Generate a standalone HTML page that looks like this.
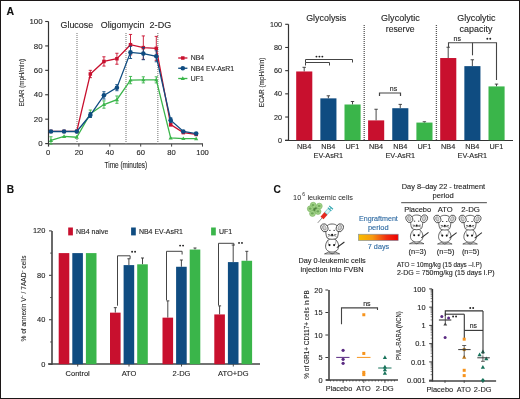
<!DOCTYPE html>
<html><head><meta charset="utf-8"><style>
html,body{margin:0;padding:0;background:#fff;}
body{width:520px;height:399px;overflow:hidden;position:relative;}
.frame{position:absolute;left:0;top:0;width:518px;height:397px;border:1px solid #1c1717;box-sizing:content-box;}
svg{position:absolute;left:0;top:0;will-change:transform;}
text{font-family:"Liberation Sans",sans-serif;}
</style></head><body>
<svg width="520" height="399" viewBox="0 0 520 399">
<rect x="0" y="0" width="520" height="399" fill="#fff"/>
<text x="6.50" y="15.00" font-size="10.5" text-anchor="start" fill="#111" stroke="#111" stroke-width="0.12" font-weight="bold" >A</text>
<line x1="48.50" y1="21.50" x2="48.50" y2="146.60" stroke="#333" stroke-width="1.2" />
<line x1="48.00" y1="143.90" x2="203.00" y2="143.90" stroke="#444" stroke-width="1.4" />
<line x1="45.20" y1="143.60" x2="48.50" y2="143.60" stroke="#333" stroke-width="1.1" />
<text x="42.60" y="146.30" font-size="7.9" text-anchor="end" fill="#262626" stroke="#262626" stroke-width="0.12" >0</text>
<text x="48.00" y="155.20" font-size="7.6" text-anchor="middle" fill="#262626" stroke="#262626" stroke-width="0.12" >0</text>
<line x1="45.20" y1="119.18" x2="48.50" y2="119.18" stroke="#333" stroke-width="1.1" />
<text x="42.60" y="121.88" font-size="7.9" text-anchor="end" fill="#262626" stroke="#262626" stroke-width="0.12" >20</text>
<line x1="78.90" y1="143.90" x2="78.90" y2="146.60" stroke="#444" stroke-width="1" />
<text x="78.90" y="155.20" font-size="7.6" text-anchor="middle" fill="#262626" stroke="#262626" stroke-width="0.12" >20</text>
<line x1="45.20" y1="94.76" x2="48.50" y2="94.76" stroke="#333" stroke-width="1.1" />
<text x="42.60" y="97.46" font-size="7.9" text-anchor="end" fill="#262626" stroke="#262626" stroke-width="0.12" >40</text>
<line x1="109.80" y1="143.90" x2="109.80" y2="146.60" stroke="#444" stroke-width="1" />
<text x="109.80" y="155.20" font-size="7.6" text-anchor="middle" fill="#262626" stroke="#262626" stroke-width="0.12" >40</text>
<line x1="45.20" y1="70.34" x2="48.50" y2="70.34" stroke="#333" stroke-width="1.1" />
<text x="42.60" y="73.04" font-size="7.9" text-anchor="end" fill="#262626" stroke="#262626" stroke-width="0.12" >60</text>
<line x1="140.70" y1="143.90" x2="140.70" y2="146.60" stroke="#444" stroke-width="1" />
<text x="140.70" y="155.20" font-size="7.6" text-anchor="middle" fill="#262626" stroke="#262626" stroke-width="0.12" >60</text>
<line x1="45.20" y1="45.92" x2="48.50" y2="45.92" stroke="#333" stroke-width="1.1" />
<text x="42.60" y="48.62" font-size="7.9" text-anchor="end" fill="#262626" stroke="#262626" stroke-width="0.12" >80</text>
<line x1="171.60" y1="143.90" x2="171.60" y2="146.60" stroke="#444" stroke-width="1" />
<text x="171.60" y="155.20" font-size="7.6" text-anchor="middle" fill="#262626" stroke="#262626" stroke-width="0.12" >80</text>
<line x1="45.20" y1="21.50" x2="48.50" y2="21.50" stroke="#333" stroke-width="1.1" />
<text x="42.60" y="24.20" font-size="7.9" text-anchor="end" fill="#262626" stroke="#262626" stroke-width="0.12" >100</text>
<line x1="202.50" y1="143.90" x2="202.50" y2="146.60" stroke="#444" stroke-width="1" />
<text x="202.50" y="155.20" font-size="7.6" text-anchor="middle" fill="#262626" stroke="#262626" stroke-width="0.12" >100</text>
<text x="125.90" y="168.30" font-size="9" text-anchor="middle" fill="#262626" stroke="#262626" stroke-width="0.12" textLength="42.6" lengthAdjust="spacingAndGlyphs" >Time (minutes)</text>
<text transform="translate(23.9,82.8) rotate(-90)" x="0" y="0" stroke="#2b2b2b" stroke-width="0.1" font-size="8.0" text-anchor="middle" fill="#262626" textLength="47.5" lengthAdjust="spacingAndGlyphs">ECAR (mpH/min)</text>
<line x1="77.00" y1="33.00" x2="77.00" y2="143.60" stroke="#999" stroke-width="1.4" stroke-dasharray="1,1"/>
<line x1="126.00" y1="33.00" x2="126.00" y2="143.60" stroke="#999" stroke-width="1.4" stroke-dasharray="1,1"/>
<line x1="157.80" y1="33.00" x2="157.80" y2="143.60" stroke="#999" stroke-width="1.4" stroke-dasharray="1,1"/>
<text x="60.50" y="27.80" font-size="8.8" text-anchor="start" fill="#262626" stroke="#262626" stroke-width="0.12" textLength="32.6" lengthAdjust="spacingAndGlyphs" >Glucose</text>
<text x="100.80" y="27.80" font-size="8.8" text-anchor="start" fill="#262626" stroke="#262626" stroke-width="0.12" textLength="43.7" lengthAdjust="spacingAndGlyphs" >Oligomycin</text>
<text x="149.60" y="27.80" font-size="8.8" text-anchor="start" fill="#262626" stroke="#262626" stroke-width="0.12" textLength="21.6" lengthAdjust="spacingAndGlyphs" >2-DG</text>
<line x1="50.94" y1="136.76" x2="50.94" y2="144.09" stroke="#3ab54a" stroke-width="0.9" />
<line x1="49.34" y1="136.76" x2="52.54" y2="136.76" stroke="#3ab54a" stroke-width="0.9" />
<line x1="49.34" y1="144.09" x2="52.54" y2="144.09" stroke="#3ab54a" stroke-width="0.9" />
<line x1="90.33" y1="110.02" x2="90.33" y2="117.35" stroke="#3ab54a" stroke-width="0.9" />
<line x1="88.73" y1="110.02" x2="91.93" y2="110.02" stroke="#3ab54a" stroke-width="0.9" />
<line x1="88.73" y1="117.35" x2="91.93" y2="117.35" stroke="#3ab54a" stroke-width="0.9" />
<line x1="103.93" y1="100.86" x2="103.93" y2="108.19" stroke="#3ab54a" stroke-width="0.9" />
<line x1="102.33" y1="100.86" x2="105.53" y2="100.86" stroke="#3ab54a" stroke-width="0.9" />
<line x1="102.33" y1="108.19" x2="105.53" y2="108.19" stroke="#3ab54a" stroke-width="0.9" />
<line x1="116.91" y1="95.98" x2="116.91" y2="103.31" stroke="#3ab54a" stroke-width="0.9" />
<line x1="115.31" y1="95.98" x2="118.51" y2="95.98" stroke="#3ab54a" stroke-width="0.9" />
<line x1="115.31" y1="103.31" x2="118.51" y2="103.31" stroke="#3ab54a" stroke-width="0.9" />
<line x1="130.50" y1="76.44" x2="130.50" y2="83.77" stroke="#3ab54a" stroke-width="0.9" />
<line x1="128.90" y1="76.44" x2="132.10" y2="76.44" stroke="#3ab54a" stroke-width="0.9" />
<line x1="128.90" y1="83.77" x2="132.10" y2="83.77" stroke="#3ab54a" stroke-width="0.9" />
<line x1="143.33" y1="76.81" x2="143.33" y2="82.92" stroke="#3ab54a" stroke-width="0.9" />
<line x1="141.73" y1="76.81" x2="144.93" y2="76.81" stroke="#3ab54a" stroke-width="0.9" />
<line x1="141.73" y1="82.92" x2="144.93" y2="82.92" stroke="#3ab54a" stroke-width="0.9" />
<line x1="156.30" y1="76.81" x2="156.30" y2="82.92" stroke="#3ab54a" stroke-width="0.9" />
<line x1="154.70" y1="76.81" x2="157.90" y2="76.81" stroke="#3ab54a" stroke-width="0.9" />
<line x1="154.70" y1="82.92" x2="157.90" y2="82.92" stroke="#3ab54a" stroke-width="0.9" />
<polyline points="50.94,140.43 64.07,136.40 76.74,137.25 90.33,113.69 103.93,104.53 116.91,99.64 130.50,80.11 143.33,79.86 156.30,79.86 170.67,137.98 183.34,138.59 196.17,138.72" fill="none" stroke="#3ab54a" stroke-width="1.3"/>
<polygon points="48.84,141.93 53.04,141.93 50.94,138.23" fill="#3ab54a"/>
<polygon points="61.97,137.90 66.17,137.90 64.07,134.20" fill="#3ab54a"/>
<polygon points="74.64,138.75 78.84,138.75 76.74,135.05" fill="#3ab54a"/>
<polygon points="88.23,115.19 92.43,115.19 90.33,111.49" fill="#3ab54a"/>
<polygon points="101.83,106.03 106.03,106.03 103.93,102.33" fill="#3ab54a"/>
<polygon points="114.81,101.14 119.01,101.14 116.91,97.44" fill="#3ab54a"/>
<polygon points="128.40,81.61 132.60,81.61 130.50,77.91" fill="#3ab54a"/>
<polygon points="141.23,81.36 145.43,81.36 143.33,77.66" fill="#3ab54a"/>
<polygon points="154.20,81.36 158.40,81.36 156.30,77.66" fill="#3ab54a"/>
<polygon points="168.57,139.48 172.77,139.48 170.67,135.78" fill="#3ab54a"/>
<polygon points="181.24,140.09 185.44,140.09 183.34,136.39" fill="#3ab54a"/>
<polygon points="194.07,140.22 198.27,140.22 196.17,136.52" fill="#3ab54a"/>
<line x1="90.33" y1="70.34" x2="90.33" y2="77.67" stroke="#c8102e" stroke-width="0.9" />
<line x1="88.73" y1="70.34" x2="91.93" y2="70.34" stroke="#c8102e" stroke-width="0.9" />
<line x1="88.73" y1="77.67" x2="91.93" y2="77.67" stroke="#c8102e" stroke-width="0.9" />
<line x1="103.93" y1="56.79" x2="103.93" y2="66.07" stroke="#c8102e" stroke-width="0.9" />
<line x1="102.33" y1="56.79" x2="105.53" y2="56.79" stroke="#c8102e" stroke-width="0.9" />
<line x1="102.33" y1="66.07" x2="105.53" y2="66.07" stroke="#c8102e" stroke-width="0.9" />
<line x1="116.91" y1="53.25" x2="116.91" y2="64.23" stroke="#c8102e" stroke-width="0.9" />
<line x1="115.31" y1="53.25" x2="118.51" y2="53.25" stroke="#c8102e" stroke-width="0.9" />
<line x1="115.31" y1="64.23" x2="118.51" y2="64.23" stroke="#c8102e" stroke-width="0.9" />
<line x1="130.50" y1="34.44" x2="130.50" y2="54.96" stroke="#c8102e" stroke-width="0.9" />
<line x1="128.90" y1="34.44" x2="132.10" y2="34.44" stroke="#c8102e" stroke-width="0.9" />
<line x1="128.90" y1="54.96" x2="132.10" y2="54.96" stroke="#c8102e" stroke-width="0.9" />
<line x1="143.33" y1="35.91" x2="143.33" y2="59.35" stroke="#c8102e" stroke-width="0.9" />
<line x1="141.73" y1="35.91" x2="144.93" y2="35.91" stroke="#c8102e" stroke-width="0.9" />
<line x1="141.73" y1="59.35" x2="144.93" y2="59.35" stroke="#c8102e" stroke-width="0.9" />
<line x1="156.30" y1="36.40" x2="156.30" y2="60.33" stroke="#c8102e" stroke-width="0.9" />
<line x1="154.70" y1="36.40" x2="157.90" y2="36.40" stroke="#c8102e" stroke-width="0.9" />
<line x1="154.70" y1="60.33" x2="157.90" y2="60.33" stroke="#c8102e" stroke-width="0.9" />
<line x1="170.67" y1="123.45" x2="170.67" y2="125.90" stroke="#c8102e" stroke-width="0.9" />
<line x1="169.07" y1="123.45" x2="172.27" y2="123.45" stroke="#c8102e" stroke-width="0.9" />
<line x1="169.07" y1="125.90" x2="172.27" y2="125.90" stroke="#c8102e" stroke-width="0.9" />
<line x1="183.34" y1="132.00" x2="183.34" y2="133.22" stroke="#c8102e" stroke-width="0.9" />
<line x1="181.74" y1="132.00" x2="184.94" y2="132.00" stroke="#c8102e" stroke-width="0.9" />
<line x1="181.74" y1="133.22" x2="184.94" y2="133.22" stroke="#c8102e" stroke-width="0.9" />
<line x1="196.17" y1="133.83" x2="196.17" y2="135.05" stroke="#c8102e" stroke-width="0.9" />
<line x1="194.57" y1="133.83" x2="197.77" y2="133.83" stroke="#c8102e" stroke-width="0.9" />
<line x1="194.57" y1="135.05" x2="197.77" y2="135.05" stroke="#c8102e" stroke-width="0.9" />
<polyline points="50.94,131.39 64.07,131.39 76.74,131.39 90.33,74.00 103.93,61.43 116.91,58.74 130.50,44.70 143.33,47.63 156.30,48.36 170.67,124.67 183.34,132.61 196.17,134.44" fill="none" stroke="#c8102e" stroke-width="1.3"/>
<rect x="49.19" y="129.64" width="3.50" height="3.50" fill="#c8102e"/>
<rect x="62.32" y="129.64" width="3.50" height="3.50" fill="#c8102e"/>
<rect x="74.99" y="129.64" width="3.50" height="3.50" fill="#c8102e"/>
<rect x="88.58" y="72.25" width="3.50" height="3.50" fill="#c8102e"/>
<rect x="102.18" y="59.68" width="3.50" height="3.50" fill="#c8102e"/>
<rect x="115.16" y="56.99" width="3.50" height="3.50" fill="#c8102e"/>
<rect x="128.75" y="42.95" width="3.50" height="3.50" fill="#c8102e"/>
<rect x="141.58" y="45.88" width="3.50" height="3.50" fill="#c8102e"/>
<rect x="154.55" y="46.61" width="3.50" height="3.50" fill="#c8102e"/>
<rect x="168.92" y="122.92" width="3.50" height="3.50" fill="#c8102e"/>
<rect x="181.59" y="130.86" width="3.50" height="3.50" fill="#c8102e"/>
<rect x="194.42" y="132.69" width="3.50" height="3.50" fill="#c8102e"/>
<line x1="90.33" y1="112.59" x2="90.33" y2="117.47" stroke="#0f4c81" stroke-width="0.9" />
<line x1="88.73" y1="112.59" x2="91.93" y2="112.59" stroke="#0f4c81" stroke-width="0.9" />
<line x1="88.73" y1="117.47" x2="91.93" y2="117.47" stroke="#0f4c81" stroke-width="0.9" />
<line x1="103.93" y1="91.71" x2="103.93" y2="99.03" stroke="#0f4c81" stroke-width="0.9" />
<line x1="102.33" y1="91.71" x2="105.53" y2="91.71" stroke="#0f4c81" stroke-width="0.9" />
<line x1="102.33" y1="99.03" x2="105.53" y2="99.03" stroke="#0f4c81" stroke-width="0.9" />
<line x1="116.91" y1="84.63" x2="116.91" y2="90.73" stroke="#0f4c81" stroke-width="0.9" />
<line x1="115.31" y1="84.63" x2="118.51" y2="84.63" stroke="#0f4c81" stroke-width="0.9" />
<line x1="115.31" y1="90.73" x2="118.51" y2="90.73" stroke="#0f4c81" stroke-width="0.9" />
<line x1="130.50" y1="46.29" x2="130.50" y2="58.50" stroke="#0f4c81" stroke-width="0.9" />
<line x1="128.90" y1="46.29" x2="132.10" y2="46.29" stroke="#0f4c81" stroke-width="0.9" />
<line x1="128.90" y1="58.50" x2="132.10" y2="58.50" stroke="#0f4c81" stroke-width="0.9" />
<line x1="143.33" y1="47.51" x2="143.33" y2="59.72" stroke="#0f4c81" stroke-width="0.9" />
<line x1="141.73" y1="47.51" x2="144.93" y2="47.51" stroke="#0f4c81" stroke-width="0.9" />
<line x1="141.73" y1="59.72" x2="144.93" y2="59.72" stroke="#0f4c81" stroke-width="0.9" />
<line x1="156.30" y1="50.80" x2="156.30" y2="61.79" stroke="#0f4c81" stroke-width="0.9" />
<line x1="154.70" y1="50.80" x2="157.90" y2="50.80" stroke="#0f4c81" stroke-width="0.9" />
<line x1="154.70" y1="61.79" x2="157.90" y2="61.79" stroke="#0f4c81" stroke-width="0.9" />
<line x1="170.67" y1="117.71" x2="170.67" y2="122.60" stroke="#0f4c81" stroke-width="0.9" />
<line x1="169.07" y1="117.71" x2="172.27" y2="117.71" stroke="#0f4c81" stroke-width="0.9" />
<line x1="169.07" y1="122.60" x2="172.27" y2="122.60" stroke="#0f4c81" stroke-width="0.9" />
<line x1="183.34" y1="130.90" x2="183.34" y2="132.12" stroke="#0f4c81" stroke-width="0.9" />
<line x1="181.74" y1="130.90" x2="184.94" y2="130.90" stroke="#0f4c81" stroke-width="0.9" />
<line x1="181.74" y1="132.12" x2="184.94" y2="132.12" stroke="#0f4c81" stroke-width="0.9" />
<line x1="196.17" y1="132.98" x2="196.17" y2="134.20" stroke="#0f4c81" stroke-width="0.9" />
<line x1="194.57" y1="132.98" x2="197.77" y2="132.98" stroke="#0f4c81" stroke-width="0.9" />
<line x1="194.57" y1="134.20" x2="197.77" y2="134.20" stroke="#0f4c81" stroke-width="0.9" />
<polyline points="50.94,131.51 64.07,131.51 76.74,131.51 90.33,115.03 103.93,95.37 116.91,87.68 130.50,52.39 143.33,53.61 156.30,56.30 170.67,120.16 183.34,131.51 196.17,133.59" fill="none" stroke="#0f4c81" stroke-width="1.3"/>
<circle cx="50.94" cy="131.51" r="2.3" fill="#0f4c81"/>
<circle cx="64.07" cy="131.51" r="2.3" fill="#0f4c81"/>
<circle cx="76.74" cy="131.51" r="2.3" fill="#0f4c81"/>
<circle cx="90.33" cy="115.03" r="2.3" fill="#0f4c81"/>
<circle cx="103.93" cy="95.37" r="2.3" fill="#0f4c81"/>
<circle cx="116.91" cy="87.68" r="2.3" fill="#0f4c81"/>
<circle cx="130.50" cy="52.39" r="2.3" fill="#0f4c81"/>
<circle cx="143.33" cy="53.61" r="2.3" fill="#0f4c81"/>
<circle cx="156.30" cy="56.30" r="2.3" fill="#0f4c81"/>
<circle cx="170.67" cy="120.16" r="2.3" fill="#0f4c81"/>
<circle cx="183.34" cy="131.51" r="2.3" fill="#0f4c81"/>
<circle cx="196.17" cy="133.59" r="2.3" fill="#0f4c81"/>
<line x1="178.20" y1="58.00" x2="187.40" y2="58.00" stroke="#c8102e" stroke-width="1.3" />
<rect x="181.05" y="56.25" width="3.50" height="3.50" fill="#c8102e"/>
<text x="190.80" y="60.40" font-size="6.9" text-anchor="start" fill="#262626" stroke="#262626" stroke-width="0.12" >NB4</text>
<line x1="178.20" y1="68.25" x2="187.40" y2="68.25" stroke="#0f4c81" stroke-width="1.3" />
<circle cx="182.80" cy="68.25" r="2.3" fill="#0f4c81"/>
<text x="190.80" y="70.65" font-size="6.9" text-anchor="start" fill="#262626" stroke="#262626" stroke-width="0.12" >NB4 EV-AsR1</text>
<line x1="178.20" y1="78.50" x2="187.40" y2="78.50" stroke="#3ab54a" stroke-width="1.3" />
<polygon points="180.70,80.00 184.90,80.00 182.80,76.30" fill="#3ab54a"/>
<text x="190.80" y="80.90" font-size="6.9" text-anchor="start" fill="#262626" stroke="#262626" stroke-width="0.12" >UF1</text>
<text transform="translate(264.0,82.4) rotate(-90)" x="0" y="0" stroke="#2b2b2b" stroke-width="0.1" font-size="8.0" text-anchor="middle" fill="#262626" textLength="49.5" lengthAdjust="spacingAndGlyphs">ECAR (mpH/min)</text>
<line x1="288.50" y1="24.30" x2="288.50" y2="141.00" stroke="#333" stroke-width="1.2" />
<line x1="285.00" y1="140.50" x2="513.00" y2="140.50" stroke="#333" stroke-width="1.2" />
<line x1="285.20" y1="140.20" x2="288.50" y2="140.20" stroke="#333" stroke-width="1.1" />
<text x="282.00" y="142.70" font-size="7.2" text-anchor="end" fill="#262626" stroke="#262626" stroke-width="0.12" >0</text>
<line x1="285.20" y1="117.02" x2="288.50" y2="117.02" stroke="#333" stroke-width="1.1" />
<text x="282.00" y="119.52" font-size="7.2" text-anchor="end" fill="#262626" stroke="#262626" stroke-width="0.12" >20</text>
<line x1="285.20" y1="93.84" x2="288.50" y2="93.84" stroke="#333" stroke-width="1.1" />
<text x="282.00" y="96.34" font-size="7.2" text-anchor="end" fill="#262626" stroke="#262626" stroke-width="0.12" >40</text>
<line x1="285.20" y1="70.66" x2="288.50" y2="70.66" stroke="#333" stroke-width="1.1" />
<text x="282.00" y="73.16" font-size="7.2" text-anchor="end" fill="#262626" stroke="#262626" stroke-width="0.12" >60</text>
<line x1="285.20" y1="47.48" x2="288.50" y2="47.48" stroke="#333" stroke-width="1.1" />
<text x="282.00" y="49.98" font-size="7.2" text-anchor="end" fill="#262626" stroke="#262626" stroke-width="0.12" >80</text>
<line x1="285.20" y1="24.30" x2="288.50" y2="24.30" stroke="#333" stroke-width="1.1" />
<text x="282.00" y="26.80" font-size="7.2" text-anchor="end" fill="#262626" stroke="#262626" stroke-width="0.12" >100</text>
<line x1="364.20" y1="25.00" x2="364.20" y2="140.20" stroke="#555" stroke-width="1.3" stroke-dasharray="1,1"/>
<line x1="436.40" y1="25.00" x2="436.40" y2="140.20" stroke="#555" stroke-width="1.3" stroke-dasharray="1,1"/>
<line x1="304.20" y1="71.47" x2="304.20" y2="67.30" stroke="#333" stroke-width="0.9" />
<line x1="302.50" y1="67.30" x2="305.90" y2="67.30" stroke="#333" stroke-width="0.9" />
<rect x="296.20" y="71.47" width="16.10" height="68.73" fill="#c8102e"/>
<line x1="328.35" y1="98.36" x2="328.35" y2="95.81" stroke="#333" stroke-width="0.9" />
<line x1="326.65" y1="95.81" x2="330.05" y2="95.81" stroke="#333" stroke-width="0.9" />
<rect x="320.35" y="98.36" width="16.10" height="41.84" fill="#0f4c81"/>
<line x1="352.50" y1="104.50" x2="352.50" y2="101.49" stroke="#333" stroke-width="0.9" />
<line x1="350.80" y1="101.49" x2="354.20" y2="101.49" stroke="#333" stroke-width="0.9" />
<rect x="344.50" y="104.50" width="16.10" height="35.70" fill="#3ab54a"/>
<text x="304.20" y="149.20" font-size="7.3" text-anchor="middle" fill="#262626" stroke="#262626" stroke-width="0.12" >NB4</text>
<text x="328.35" y="149.20" font-size="7.3" text-anchor="middle" fill="#262626" stroke="#262626" stroke-width="0.12" >NB4</text>
<text x="352.50" y="149.20" font-size="7.3" text-anchor="middle" fill="#262626" stroke="#262626" stroke-width="0.12" >UF1</text>
<text x="328.35" y="158.30" font-size="7.3" text-anchor="middle" fill="#262626" stroke="#262626" stroke-width="0.12" >EV-AsR1</text>
<line x1="376.10" y1="120.38" x2="376.10" y2="109.25" stroke="#333" stroke-width="0.9" />
<line x1="374.40" y1="109.25" x2="377.80" y2="109.25" stroke="#333" stroke-width="0.9" />
<rect x="368.10" y="120.38" width="16.10" height="19.82" fill="#c8102e"/>
<line x1="400.25" y1="108.21" x2="400.25" y2="104.39" stroke="#333" stroke-width="0.9" />
<line x1="398.55" y1="104.39" x2="401.95" y2="104.39" stroke="#333" stroke-width="0.9" />
<rect x="392.25" y="108.21" width="16.10" height="31.99" fill="#0f4c81"/>
<line x1="424.40" y1="122.58" x2="424.40" y2="121.77" stroke="#333" stroke-width="0.9" />
<line x1="422.70" y1="121.77" x2="426.10" y2="121.77" stroke="#333" stroke-width="0.9" />
<rect x="416.40" y="122.58" width="16.10" height="17.62" fill="#3ab54a"/>
<text x="376.10" y="149.20" font-size="7.3" text-anchor="middle" fill="#262626" stroke="#262626" stroke-width="0.12" >NB4</text>
<text x="400.25" y="149.20" font-size="7.3" text-anchor="middle" fill="#262626" stroke="#262626" stroke-width="0.12" >NB4</text>
<text x="424.40" y="149.20" font-size="7.3" text-anchor="middle" fill="#262626" stroke="#262626" stroke-width="0.12" >UF1</text>
<text x="400.25" y="158.30" font-size="7.3" text-anchor="middle" fill="#262626" stroke="#262626" stroke-width="0.12" >EV-AsR1</text>
<line x1="448.20" y1="58.03" x2="448.20" y2="47.25" stroke="#333" stroke-width="0.9" />
<line x1="446.50" y1="47.25" x2="449.90" y2="47.25" stroke="#333" stroke-width="0.9" />
<rect x="440.20" y="58.03" width="16.10" height="82.17" fill="#c8102e"/>
<line x1="472.35" y1="66.14" x2="472.35" y2="59.77" stroke="#333" stroke-width="0.9" />
<line x1="470.65" y1="59.77" x2="474.05" y2="59.77" stroke="#333" stroke-width="0.9" />
<rect x="464.35" y="66.14" width="16.10" height="74.06" fill="#0f4c81"/>
<line x1="496.50" y1="86.42" x2="496.50" y2="84.10" stroke="#333" stroke-width="0.9" />
<line x1="494.80" y1="84.10" x2="498.20" y2="84.10" stroke="#333" stroke-width="0.9" />
<rect x="488.50" y="86.42" width="16.10" height="53.78" fill="#3ab54a"/>
<text x="448.20" y="149.20" font-size="7.3" text-anchor="middle" fill="#262626" stroke="#262626" stroke-width="0.12" >NB4</text>
<text x="472.35" y="149.20" font-size="7.3" text-anchor="middle" fill="#262626" stroke="#262626" stroke-width="0.12" >NB4</text>
<text x="496.50" y="149.20" font-size="7.3" text-anchor="middle" fill="#262626" stroke="#262626" stroke-width="0.12" >UF1</text>
<text x="472.35" y="158.30" font-size="7.3" text-anchor="middle" fill="#262626" stroke="#262626" stroke-width="0.12" >EV-AsR1</text>
<text x="326.20" y="21.30" font-size="8.8" text-anchor="middle" fill="#262626" stroke="#262626" stroke-width="0.12" textLength="40" lengthAdjust="spacingAndGlyphs" >Glycolysis</text>
<text x="400.40" y="21.20" font-size="8.8" text-anchor="middle" fill="#262626" stroke="#262626" stroke-width="0.12" textLength="38.6" lengthAdjust="spacingAndGlyphs" >Glycolytic</text>
<text x="400.20" y="32.20" font-size="8.8" text-anchor="middle" fill="#262626" stroke="#262626" stroke-width="0.12" textLength="28.8" lengthAdjust="spacingAndGlyphs" >reserve</text>
<text x="476.40" y="21.20" font-size="8.8" text-anchor="middle" fill="#262626" stroke="#262626" stroke-width="0.12" textLength="38.2" lengthAdjust="spacingAndGlyphs" >Glycolytic</text>
<text x="476.00" y="32.20" font-size="8.8" text-anchor="middle" fill="#262626" stroke="#262626" stroke-width="0.12" textLength="32.8" lengthAdjust="spacingAndGlyphs" >capacity</text>
<polyline points="305.50,62.50 305.50,59.50 352.50,59.50 352.50,62.50" fill="none" stroke="#444" stroke-width="1"/>
<polyline points="305.50,65.50 305.50,62.50 329.50,62.50 329.50,65.50" fill="none" stroke="#444" stroke-width="1"/>
<circle cx="316.45" cy="56.60" r="0.95" fill="#222"/>
<circle cx="319.40" cy="56.60" r="0.95" fill="#222"/>
<circle cx="322.35" cy="56.60" r="0.95" fill="#222"/>
<polyline points="379.50,96.00 379.50,93.00 400.50,93.00 400.50,96.00" fill="none" stroke="#444" stroke-width="1.2"/>
<text x="393.50" y="90.70" font-size="7" text-anchor="middle" fill="#262626" stroke="#262626" stroke-width="0.12" >ns</text>
<polyline points="448.50,47.30 448.50,42.80 496.50,42.80 496.50,80.10" fill="none" stroke="#444" stroke-width="1.1"/>
<line x1="472.50" y1="42.80" x2="472.50" y2="55.30" stroke="#444" stroke-width="1.1" />
<text x="457.30" y="40.80" font-size="7" text-anchor="middle" fill="#262626" stroke="#262626" stroke-width="0.12" >ns</text>
<circle cx="487.32" cy="38.80" r="0.95" fill="#222"/>
<circle cx="490.27" cy="38.80" r="0.95" fill="#222"/>
<text x="6.80" y="192.80" font-size="10.2" text-anchor="start" fill="#111" stroke="#111" stroke-width="0.12" font-weight="bold" >B</text>
<line x1="52.00" y1="230.88" x2="52.00" y2="364.80" stroke="#444" stroke-width="1.6" />
<line x1="48.00" y1="364.00" x2="260.00" y2="364.00" stroke="#444" stroke-width="1.6" />
<line x1="49.00" y1="364.20" x2="51.80" y2="364.20" stroke="#3a3a3a" stroke-width="1" />
<text x="45.30" y="366.80" font-size="7.4" text-anchor="end" fill="#262626" stroke="#262626" stroke-width="0.12" >0</text>
<line x1="50.20" y1="341.98" x2="51.80" y2="341.98" stroke="#3a3a3a" stroke-width="0.9" />
<line x1="49.00" y1="319.76" x2="51.80" y2="319.76" stroke="#3a3a3a" stroke-width="1" />
<text x="45.30" y="322.36" font-size="7.4" text-anchor="end" fill="#262626" stroke="#262626" stroke-width="0.12" >40</text>
<line x1="50.20" y1="297.54" x2="51.80" y2="297.54" stroke="#3a3a3a" stroke-width="0.9" />
<line x1="49.00" y1="275.32" x2="51.80" y2="275.32" stroke="#3a3a3a" stroke-width="1" />
<text x="45.30" y="277.92" font-size="7.4" text-anchor="end" fill="#262626" stroke="#262626" stroke-width="0.12" >80</text>
<line x1="50.20" y1="253.10" x2="51.80" y2="253.10" stroke="#3a3a3a" stroke-width="0.9" />
<line x1="49.00" y1="230.88" x2="51.80" y2="230.88" stroke="#3a3a3a" stroke-width="1" />
<text x="45.30" y="233.48" font-size="7.4" text-anchor="end" fill="#262626" stroke="#262626" stroke-width="0.12" >120</text>
<text transform="translate(26.2,298.5) rotate(-90)" x="0" y="0" stroke="#2b2b2b" stroke-width="0.1" font-size="8" text-anchor="middle" fill="#262626" textLength="86" lengthAdjust="spacingAndGlyphs">% of annexin V<tspan dy="-2" font-size="4.5">−</tspan><tspan dy="2"> / 7AAD</tspan><tspan dy="-2" font-size="4.5">−</tspan><tspan dy="2"> cells</tspan></text>
<rect x="58.70" y="253.10" width="10.60" height="111.10" fill="#c8102e"/>
<rect x="72.30" y="253.10" width="10.60" height="111.10" fill="#0f4c81"/>
<rect x="85.90" y="253.10" width="10.60" height="111.10" fill="#3ab54a"/>
<line x1="77.70" y1="364.20" x2="77.70" y2="366.50" stroke="#3a3a3a" stroke-width="0.9" />
<text x="77.70" y="375.90" font-size="7.5" text-anchor="middle" fill="#262626" stroke="#262626" stroke-width="0.12" >Control</text>
<line x1="115.30" y1="312.65" x2="115.30" y2="307.65" stroke="#333" stroke-width="0.9" />
<line x1="113.80" y1="307.65" x2="116.80" y2="307.65" stroke="#333" stroke-width="0.9" />
<rect x="110.00" y="312.65" width="10.60" height="51.55" fill="#c8102e"/>
<line x1="128.90" y1="265.10" x2="128.90" y2="258.77" stroke="#333" stroke-width="0.9" />
<line x1="127.40" y1="258.77" x2="130.40" y2="258.77" stroke="#333" stroke-width="0.9" />
<rect x="123.60" y="265.10" width="10.60" height="99.10" fill="#0f4c81"/>
<line x1="142.50" y1="264.32" x2="142.50" y2="257.99" stroke="#333" stroke-width="0.9" />
<line x1="141.00" y1="257.99" x2="144.00" y2="257.99" stroke="#333" stroke-width="0.9" />
<rect x="137.20" y="264.32" width="10.60" height="99.88" fill="#3ab54a"/>
<line x1="129.00" y1="364.20" x2="129.00" y2="366.50" stroke="#3a3a3a" stroke-width="0.9" />
<text x="129.00" y="375.90" font-size="7.5" text-anchor="middle" fill="#262626" stroke="#262626" stroke-width="0.12" >ATO</text>
<line x1="167.80" y1="317.65" x2="167.80" y2="300.87" stroke="#333" stroke-width="0.9" />
<line x1="166.30" y1="300.87" x2="169.30" y2="300.87" stroke="#333" stroke-width="0.9" />
<rect x="162.50" y="317.65" width="10.60" height="46.55" fill="#c8102e"/>
<line x1="181.40" y1="266.77" x2="181.40" y2="259.99" stroke="#333" stroke-width="0.9" />
<line x1="179.90" y1="259.99" x2="182.90" y2="259.99" stroke="#333" stroke-width="0.9" />
<rect x="176.10" y="266.77" width="10.60" height="97.43" fill="#0f4c81"/>
<line x1="195.00" y1="249.54" x2="195.00" y2="247.99" stroke="#333" stroke-width="0.9" />
<line x1="193.50" y1="247.99" x2="196.50" y2="247.99" stroke="#333" stroke-width="0.9" />
<rect x="189.70" y="249.54" width="10.60" height="114.66" fill="#3ab54a"/>
<line x1="181.50" y1="364.20" x2="181.50" y2="366.50" stroke="#3a3a3a" stroke-width="0.9" />
<text x="181.50" y="375.90" font-size="7.5" text-anchor="middle" fill="#262626" stroke="#262626" stroke-width="0.12" >2-DG</text>
<line x1="219.60" y1="314.43" x2="219.60" y2="305.87" stroke="#333" stroke-width="0.9" />
<line x1="218.10" y1="305.87" x2="221.10" y2="305.87" stroke="#333" stroke-width="0.9" />
<rect x="214.30" y="314.43" width="10.60" height="49.77" fill="#c8102e"/>
<line x1="233.20" y1="262.10" x2="233.20" y2="244.99" stroke="#333" stroke-width="0.9" />
<line x1="231.70" y1="244.99" x2="234.70" y2="244.99" stroke="#333" stroke-width="0.9" />
<rect x="227.90" y="262.10" width="10.60" height="102.10" fill="#0f4c81"/>
<line x1="246.80" y1="260.77" x2="246.80" y2="251.32" stroke="#333" stroke-width="0.9" />
<line x1="245.30" y1="251.32" x2="248.30" y2="251.32" stroke="#333" stroke-width="0.9" />
<rect x="241.50" y="260.77" width="10.60" height="103.43" fill="#3ab54a"/>
<line x1="233.30" y1="364.20" x2="233.30" y2="366.50" stroke="#3a3a3a" stroke-width="0.9" />
<text x="233.30" y="375.90" font-size="7.5" text-anchor="middle" fill="#262626" stroke="#262626" stroke-width="0.12" >ATO+DG</text>
<rect x="68.20" y="227.50" width="4.70" height="7.90" fill="#c8102e"/>
<text x="76.00" y="234.00" font-size="7" text-anchor="start" fill="#262626" stroke="#262626" stroke-width="0.12" >NB4 naive</text>
<rect x="131.10" y="227.50" width="4.70" height="7.90" fill="#0f4c81"/>
<text x="138.90" y="234.00" font-size="7" text-anchor="start" fill="#262626" stroke="#262626" stroke-width="0.12" >NB4 EV-AsR1</text>
<rect x="211.10" y="227.50" width="4.70" height="7.90" fill="#3ab54a"/>
<text x="218.90" y="234.00" font-size="7" text-anchor="start" fill="#262626" stroke="#262626" stroke-width="0.12" >UF1</text>
<polyline points="117.50,305.70 117.50,255.80 130.10,255.80 130.10,258.50" fill="none" stroke="#444" stroke-width="1"/>
<circle cx="132.12" cy="251.70" r="0.95" fill="#222"/>
<circle cx="135.07" cy="251.70" r="0.95" fill="#222"/>
<polyline points="166.50,300.20 166.50,251.30 182.10,251.30 182.10,254.50" fill="none" stroke="#444" stroke-width="1"/>
<circle cx="180.12" cy="245.60" r="0.95" fill="#222"/>
<circle cx="183.07" cy="245.60" r="0.95" fill="#222"/>
<polyline points="218.50,305.20 218.50,243.30 233.80,243.30 233.80,245.50" fill="none" stroke="#444" stroke-width="1"/>
<circle cx="239.03" cy="242.90" r="0.95" fill="#222"/>
<circle cx="241.97" cy="242.90" r="0.95" fill="#222"/>
<text x="273.50" y="193.10" font-size="10.2" text-anchor="start" fill="#111" stroke="#111" stroke-width="0.12" font-weight="bold" >C</text>
<text x="293.1" y="200" font-size="7.3" fill="#262626">10<tspan dy="-4" dx="0.9" font-size="5">6</tspan><tspan dy="4" x="307.4">leukemic cells</tspan></text>
<text x="332.10" y="263.10" font-size="7.3" text-anchor="middle" fill="#262626" stroke="#262626" stroke-width="0.12" textLength="67.2" lengthAdjust="spacingAndGlyphs" >Day 0-leukemic cells</text>
<text x="332.00" y="272.30" font-size="7.3" text-anchor="middle" fill="#262626" stroke="#262626" stroke-width="0.12" textLength="63" lengthAdjust="spacingAndGlyphs" >injection into FVBN</text>
<text x="443.40" y="189.00" font-size="7.3" text-anchor="middle" fill="#262626" stroke="#262626" stroke-width="0.12" textLength="83.3" lengthAdjust="spacingAndGlyphs" >Day 8–day 22 - treatment</text>
<text x="443.10" y="198.30" font-size="7.3" text-anchor="middle" fill="#262626" stroke="#262626" stroke-width="0.12" textLength="21.2" lengthAdjust="spacingAndGlyphs" >period</text>
<line x1="401.20" y1="202.70" x2="486.90" y2="202.70" stroke="#333" stroke-width="0.9" />
<text x="417.70" y="211.70" font-size="7.4" text-anchor="middle" fill="#262626" stroke="#262626" stroke-width="0.12" textLength="27" lengthAdjust="spacingAndGlyphs" >Placebo</text>
<text x="445.20" y="211.70" font-size="7.4" text-anchor="middle" fill="#262626" stroke="#262626" stroke-width="0.12" textLength="15" lengthAdjust="spacingAndGlyphs" >ATO</text>
<text x="470.60" y="211.70" font-size="7.4" text-anchor="middle" fill="#262626" stroke="#262626" stroke-width="0.12" textLength="18.7" lengthAdjust="spacingAndGlyphs" >2-DG</text>
<text x="417.40" y="254.00" font-size="7.2" text-anchor="middle" fill="#262626" stroke="#262626" stroke-width="0.12" textLength="17.6" lengthAdjust="spacingAndGlyphs" >(n=3)</text>
<text x="445.60" y="254.00" font-size="7.2" text-anchor="middle" fill="#262626" stroke="#262626" stroke-width="0.12" textLength="17.6" lengthAdjust="spacingAndGlyphs" >(n=5)</text>
<text x="470.70" y="254.00" font-size="7.2" text-anchor="middle" fill="#262626" stroke="#262626" stroke-width="0.12" textLength="17.6" lengthAdjust="spacingAndGlyphs" >(n=5)</text>
<text x="378.40" y="221.00" font-size="7.3" text-anchor="middle" fill="#2f6ba3" stroke="#2f6ba3" stroke-width="0.12" textLength="38.9" lengthAdjust="spacingAndGlyphs" >Engraftment</text>
<text x="378.30" y="229.60" font-size="7.3" text-anchor="middle" fill="#2f6ba3" stroke="#2f6ba3" stroke-width="0.12" textLength="20.8" lengthAdjust="spacingAndGlyphs" >period</text>
<text x="378.50" y="248.70" font-size="7.3" text-anchor="middle" fill="#2f6ba3" stroke="#2f6ba3" stroke-width="0.12" textLength="21.3" lengthAdjust="spacingAndGlyphs" >7 days</text>
<defs><linearGradient id="eg" x1="0" x2="1" y1="0" y2="0"><stop offset="0" stop-color="#f8bd00"/><stop offset="0.35" stop-color="#f79a10"/><stop offset="0.7" stop-color="#f03010"/><stop offset="1" stop-color="#ee0000"/></linearGradient></defs>
<rect x="358.4" y="234.2" width="39.8" height="6.4" fill="url(#eg)" stroke="#7a8fa8" stroke-width="0.6"/>
<text x="396.90" y="266.90" font-size="6.8" text-anchor="start" fill="#262626" stroke="#262626" stroke-width="0.12" textLength="85" lengthAdjust="spacingAndGlyphs" >ATO = 10mg/kg (15 days –I.P)</text>
<text x="396.90" y="275.20" font-size="6.8" text-anchor="start" fill="#262626" stroke="#262626" stroke-width="0.12" textLength="97.7" lengthAdjust="spacingAndGlyphs" >2-DG = 750mg/kg (15 days I.P)</text>
<g transform="translate(332.10,234.90) scale(1.0)" stroke="#2a2a2a" fill="none" stroke-width="0.75">
<path d="M0,3.6 C4.2,3.6 6.4,7.8 6.5,11.2 C6.6,14.8 4,17.2 0,17.2 C-4,17.2 -6.6,14.8 -6.5,11.2 C-6.4,7.8 -4.2,3.6 0,3.6 Z" fill="#fff"/>
<path d="M-7.6,19 L-3.6,17.3 L0,19 L3.6,17.3 L7.6,19 Z" fill="#fff" stroke-width="0.65"/>
<path d="M-4.6,5 L-3.4,10 M4.2,5 L3.0,10" stroke-width="0.5" stroke="#666"/>
<ellipse cx="-2.6" cy="10.2" rx="1.05" ry="1.1" fill="#111" stroke="none"/><ellipse cx="2.0" cy="10.2" rx="1.05" ry="1.1" fill="#111" stroke="none"/>
<path d="M4.8,12.8 L12.3,7.1" stroke-width="1.05"/>
<path d="M-6.4,-4.5 C-6.2,-9.5 -3.5,-10.9 0,-10.9 C3.5,-10.9 6.2,-9.5 6.4,-4.5 C6.3,-1 5.7,2 5,3 C3.5,4.9 -3.5,4.9 -5,3 C-5.7,2 -6.3,-1 -6.4,-4.5 Z" fill="#fff"/>
<path d="M-4.6,2.2 C-3.5,0.8 -1.5,0.3 0,1.2 C1.5,0.3 3.5,0.8 4.6,2.2" stroke-width="0.55"/>
<ellipse cx="-7.7" cy="-7.1" rx="3.4" ry="4.1" fill="#fff" transform="rotate(-25 -7.7 -7.1)"/><ellipse cx="7.7" cy="-7.1" rx="3.4" ry="4.1" fill="#fff" transform="rotate(25 7.7 -7.1)"/>
<ellipse cx="-7.8" cy="-7.1" rx="2.1" ry="2.8" fill="#a8a8a8" stroke="none" transform="rotate(-25 -7.8 -7.1)"/><ellipse cx="7.8" cy="-7.1" rx="2.1" ry="2.8" fill="#a8a8a8" stroke="none" transform="rotate(25 7.8 -7.1)"/>
<ellipse cx="-7.6" cy="-7.3" rx="1" ry="1.6" fill="#d8d8d8" stroke="none" transform="rotate(-25 -7.6 -7.3)"/><ellipse cx="7.6" cy="-7.3" rx="1" ry="1.6" fill="#d8d8d8" stroke="none" transform="rotate(25 7.6 -7.3)"/>
<rect x="-2.9" y="-5" width="1.3" height="1" fill="#333" stroke="none"/><rect x="1.4" y="-5" width="1.3" height="1" fill="#333" stroke="none"/>
<circle cx="0" cy="0" r="1.05" fill="#111" stroke="none"/>
<path d="M-4.2,-0.4 L-1.8,0 M1.8,0 L4.2,-0.4" stroke-width="0.7"/>
</g>
<g transform="translate(416.70,225.50) scale(0.96)" stroke="#2a2a2a" fill="none" stroke-width="0.75">
<path d="M0,3.6 C4.2,3.6 6.4,7.8 6.5,11.2 C6.6,14.8 4,17.2 0,17.2 C-4,17.2 -6.6,14.8 -6.5,11.2 C-6.4,7.8 -4.2,3.6 0,3.6 Z" fill="#fff"/>
<path d="M-7.6,19 L-3.6,17.3 L0,19 L3.6,17.3 L7.6,19 Z" fill="#fff" stroke-width="0.65"/>
<path d="M-4.6,5 L-3.4,10 M4.2,5 L3.0,10" stroke-width="0.5" stroke="#666"/>
<ellipse cx="-2.6" cy="10.2" rx="1.05" ry="1.1" fill="#111" stroke="none"/><ellipse cx="2.0" cy="10.2" rx="1.05" ry="1.1" fill="#111" stroke="none"/>
<path d="M4.8,12.8 L12.3,7.1" stroke-width="1.05"/>
<path d="M-6.4,-4.5 C-6.2,-9.5 -3.5,-10.9 0,-10.9 C3.5,-10.9 6.2,-9.5 6.4,-4.5 C6.3,-1 5.7,2 5,3 C3.5,4.9 -3.5,4.9 -5,3 C-5.7,2 -6.3,-1 -6.4,-4.5 Z" fill="#fff"/>
<path d="M-4.6,2.2 C-3.5,0.8 -1.5,0.3 0,1.2 C1.5,0.3 3.5,0.8 4.6,2.2" stroke-width="0.55"/>
<ellipse cx="-7.7" cy="-7.1" rx="3.4" ry="4.1" fill="#fff" transform="rotate(-25 -7.7 -7.1)"/><ellipse cx="7.7" cy="-7.1" rx="3.4" ry="4.1" fill="#fff" transform="rotate(25 7.7 -7.1)"/>
<ellipse cx="-7.8" cy="-7.1" rx="2.1" ry="2.8" fill="#a8a8a8" stroke="none" transform="rotate(-25 -7.8 -7.1)"/><ellipse cx="7.8" cy="-7.1" rx="2.1" ry="2.8" fill="#a8a8a8" stroke="none" transform="rotate(25 7.8 -7.1)"/>
<ellipse cx="-7.6" cy="-7.3" rx="1" ry="1.6" fill="#d8d8d8" stroke="none" transform="rotate(-25 -7.6 -7.3)"/><ellipse cx="7.6" cy="-7.3" rx="1" ry="1.6" fill="#d8d8d8" stroke="none" transform="rotate(25 7.6 -7.3)"/>
<rect x="-2.9" y="-5" width="1.3" height="1" fill="#333" stroke="none"/><rect x="1.4" y="-5" width="1.3" height="1" fill="#333" stroke="none"/>
<circle cx="0" cy="0" r="1.05" fill="#111" stroke="none"/>
<path d="M-4.2,-0.4 L-1.8,0 M1.8,0 L4.2,-0.4" stroke-width="0.7"/>
</g>
<g transform="translate(444.80,225.80) scale(0.96)" stroke="#2a2a2a" fill="none" stroke-width="0.75">
<path d="M0,3.6 C4.2,3.6 6.4,7.8 6.5,11.2 C6.6,14.8 4,17.2 0,17.2 C-4,17.2 -6.6,14.8 -6.5,11.2 C-6.4,7.8 -4.2,3.6 0,3.6 Z" fill="#fff"/>
<path d="M-7.6,19 L-3.6,17.3 L0,19 L3.6,17.3 L7.6,19 Z" fill="#fff" stroke-width="0.65"/>
<path d="M-4.6,5 L-3.4,10 M4.2,5 L3.0,10" stroke-width="0.5" stroke="#666"/>
<ellipse cx="-2.6" cy="10.2" rx="1.05" ry="1.1" fill="#111" stroke="none"/><ellipse cx="2.0" cy="10.2" rx="1.05" ry="1.1" fill="#111" stroke="none"/>
<path d="M4.8,12.8 L12.3,7.1" stroke-width="1.05"/>
<path d="M-6.4,-4.5 C-6.2,-9.5 -3.5,-10.9 0,-10.9 C3.5,-10.9 6.2,-9.5 6.4,-4.5 C6.3,-1 5.7,2 5,3 C3.5,4.9 -3.5,4.9 -5,3 C-5.7,2 -6.3,-1 -6.4,-4.5 Z" fill="#fff"/>
<path d="M-4.6,2.2 C-3.5,0.8 -1.5,0.3 0,1.2 C1.5,0.3 3.5,0.8 4.6,2.2" stroke-width="0.55"/>
<ellipse cx="-7.7" cy="-7.1" rx="3.4" ry="4.1" fill="#fff" transform="rotate(-25 -7.7 -7.1)"/><ellipse cx="7.7" cy="-7.1" rx="3.4" ry="4.1" fill="#fff" transform="rotate(25 7.7 -7.1)"/>
<ellipse cx="-7.8" cy="-7.1" rx="2.1" ry="2.8" fill="#a8a8a8" stroke="none" transform="rotate(-25 -7.8 -7.1)"/><ellipse cx="7.8" cy="-7.1" rx="2.1" ry="2.8" fill="#a8a8a8" stroke="none" transform="rotate(25 7.8 -7.1)"/>
<ellipse cx="-7.6" cy="-7.3" rx="1" ry="1.6" fill="#d8d8d8" stroke="none" transform="rotate(-25 -7.6 -7.3)"/><ellipse cx="7.6" cy="-7.3" rx="1" ry="1.6" fill="#d8d8d8" stroke="none" transform="rotate(25 7.6 -7.3)"/>
<rect x="-2.9" y="-5" width="1.3" height="1" fill="#333" stroke="none"/><rect x="1.4" y="-5" width="1.3" height="1" fill="#333" stroke="none"/>
<circle cx="0" cy="0" r="1.05" fill="#111" stroke="none"/>
<path d="M-4.2,-0.4 L-1.8,0 M1.8,0 L4.2,-0.4" stroke-width="0.7"/>
</g>
<g transform="translate(470.10,225.80) scale(0.96)" stroke="#2a2a2a" fill="none" stroke-width="0.75">
<path d="M0,3.6 C4.2,3.6 6.4,7.8 6.5,11.2 C6.6,14.8 4,17.2 0,17.2 C-4,17.2 -6.6,14.8 -6.5,11.2 C-6.4,7.8 -4.2,3.6 0,3.6 Z" fill="#fff"/>
<path d="M-7.6,19 L-3.6,17.3 L0,19 L3.6,17.3 L7.6,19 Z" fill="#fff" stroke-width="0.65"/>
<path d="M-4.6,5 L-3.4,10 M4.2,5 L3.0,10" stroke-width="0.5" stroke="#666"/>
<ellipse cx="-2.6" cy="10.2" rx="1.05" ry="1.1" fill="#111" stroke="none"/><ellipse cx="2.0" cy="10.2" rx="1.05" ry="1.1" fill="#111" stroke="none"/>
<path d="M4.8,12.8 L12.3,7.1" stroke-width="1.05"/>
<path d="M-6.4,-4.5 C-6.2,-9.5 -3.5,-10.9 0,-10.9 C3.5,-10.9 6.2,-9.5 6.4,-4.5 C6.3,-1 5.7,2 5,3 C3.5,4.9 -3.5,4.9 -5,3 C-5.7,2 -6.3,-1 -6.4,-4.5 Z" fill="#fff"/>
<path d="M-4.6,2.2 C-3.5,0.8 -1.5,0.3 0,1.2 C1.5,0.3 3.5,0.8 4.6,2.2" stroke-width="0.55"/>
<ellipse cx="-7.7" cy="-7.1" rx="3.4" ry="4.1" fill="#fff" transform="rotate(-25 -7.7 -7.1)"/><ellipse cx="7.7" cy="-7.1" rx="3.4" ry="4.1" fill="#fff" transform="rotate(25 7.7 -7.1)"/>
<ellipse cx="-7.8" cy="-7.1" rx="2.1" ry="2.8" fill="#a8a8a8" stroke="none" transform="rotate(-25 -7.8 -7.1)"/><ellipse cx="7.8" cy="-7.1" rx="2.1" ry="2.8" fill="#a8a8a8" stroke="none" transform="rotate(25 7.8 -7.1)"/>
<ellipse cx="-7.6" cy="-7.3" rx="1" ry="1.6" fill="#d8d8d8" stroke="none" transform="rotate(-25 -7.6 -7.3)"/><ellipse cx="7.6" cy="-7.3" rx="1" ry="1.6" fill="#d8d8d8" stroke="none" transform="rotate(25 7.6 -7.3)"/>
<rect x="-2.9" y="-5" width="1.3" height="1" fill="#333" stroke="none"/><rect x="1.4" y="-5" width="1.3" height="1" fill="#333" stroke="none"/>
<circle cx="0" cy="0" r="1.05" fill="#111" stroke="none"/>
<path d="M-4.2,-0.4 L-1.8,0 M1.8,0 L4.2,-0.4" stroke-width="0.7"/>
</g>
<circle cx="314.6" cy="209.5" r="3" fill="#4f7f40"/>
<circle cx="313.2" cy="205.2" r="2.95" fill="#a3d389" stroke="#78b462" stroke-width="0.6"/>
<ellipse cx="313.0" cy="205.1" rx="1.5" ry="1.1" fill="#6fa85a"/>
<circle cx="319.3" cy="206.1" r="2.95" fill="#a3d389" stroke="#78b462" stroke-width="0.6"/>
<ellipse cx="319.1" cy="206.0" rx="1.5" ry="1.1" fill="#6fa85a"/>
<circle cx="310.3" cy="208.8" r="2.95" fill="#a3d389" stroke="#78b462" stroke-width="0.6"/>
<ellipse cx="310.1" cy="208.70000000000002" rx="1.5" ry="1.1" fill="#6fa85a"/>
<circle cx="318.0" cy="211.5" r="2.95" fill="#a3d389" stroke="#78b462" stroke-width="0.6"/>
<ellipse cx="317.8" cy="211.4" rx="1.5" ry="1.1" fill="#6fa85a"/>
<circle cx="312.5" cy="213.5" r="2.95" fill="#a3d389" stroke="#78b462" stroke-width="0.6"/>
<ellipse cx="312.3" cy="213.4" rx="1.5" ry="1.1" fill="#6fa85a"/>
<g transform="translate(322.0,218.0) rotate(-49)">
<line x1="-6.5" y1="0" x2="0.5" y2="0" stroke="#555" stroke-width="0.6"/>
<rect x="0" y="-2" width="6.2" height="4" fill="#e42a1f"/>
<rect x="6.2" y="-1.7" width="5" height="3.4" fill="#d2f4f4" stroke="#3ab0b8" stroke-width="0.5"/>
<line x1="11.6" y1="-2.3" x2="11.6" y2="2.3" stroke="#2aa3ad" stroke-width="1"/>
<line x1="11.6" y1="0" x2="13.6" y2="0" stroke="#2aa3ad" stroke-width="0.7"/>
<line x1="13.8" y1="-2.5" x2="13.8" y2="2.5" stroke="#2aa3ad" stroke-width="1.1"/>
</g>
<line x1="329.00" y1="290.00" x2="329.00" y2="380.80" stroke="#444" stroke-width="1.6" />
<line x1="326.00" y1="380.00" x2="398.00" y2="380.00" stroke="#444" stroke-width="1.6" />
<line x1="325.40" y1="380.00" x2="328.20" y2="380.00" stroke="#3a3a3a" stroke-width="1" />
<text x="322.60" y="382.60" font-size="7.4" text-anchor="end" fill="#262626" stroke="#262626" stroke-width="0.12" >0</text>
<line x1="325.40" y1="357.50" x2="328.20" y2="357.50" stroke="#3a3a3a" stroke-width="1" />
<text x="322.60" y="360.10" font-size="7.4" text-anchor="end" fill="#262626" stroke="#262626" stroke-width="0.12" >5</text>
<line x1="325.40" y1="335.00" x2="328.20" y2="335.00" stroke="#3a3a3a" stroke-width="1" />
<text x="322.60" y="337.60" font-size="7.4" text-anchor="end" fill="#262626" stroke="#262626" stroke-width="0.12" >10</text>
<line x1="325.40" y1="312.50" x2="328.20" y2="312.50" stroke="#3a3a3a" stroke-width="1" />
<text x="322.60" y="315.10" font-size="7.4" text-anchor="end" fill="#262626" stroke="#262626" stroke-width="0.12" >15</text>
<line x1="325.40" y1="290.00" x2="328.20" y2="290.00" stroke="#3a3a3a" stroke-width="1" />
<text x="322.60" y="292.60" font-size="7.4" text-anchor="end" fill="#262626" stroke="#262626" stroke-width="0.12" >20</text>
<line x1="330.50" y1="380.00" x2="330.50" y2="381.50" stroke="#3a3a3a" stroke-width="0.7" />
<line x1="333.70" y1="380.00" x2="333.70" y2="381.50" stroke="#3a3a3a" stroke-width="0.7" />
<line x1="336.90" y1="380.00" x2="336.90" y2="381.50" stroke="#3a3a3a" stroke-width="0.7" />
<line x1="340.10" y1="380.00" x2="340.10" y2="381.50" stroke="#3a3a3a" stroke-width="0.7" />
<line x1="343.30" y1="380.00" x2="343.30" y2="381.50" stroke="#3a3a3a" stroke-width="0.7" />
<line x1="346.50" y1="380.00" x2="346.50" y2="381.50" stroke="#3a3a3a" stroke-width="0.7" />
<line x1="349.70" y1="380.00" x2="349.70" y2="381.50" stroke="#3a3a3a" stroke-width="0.7" />
<line x1="352.90" y1="380.00" x2="352.90" y2="381.50" stroke="#3a3a3a" stroke-width="0.7" />
<line x1="356.10" y1="380.00" x2="356.10" y2="381.50" stroke="#3a3a3a" stroke-width="0.7" />
<line x1="359.30" y1="380.00" x2="359.30" y2="381.50" stroke="#3a3a3a" stroke-width="0.7" />
<line x1="362.50" y1="380.00" x2="362.50" y2="381.50" stroke="#3a3a3a" stroke-width="0.7" />
<line x1="365.70" y1="380.00" x2="365.70" y2="381.50" stroke="#3a3a3a" stroke-width="0.7" />
<line x1="368.90" y1="380.00" x2="368.90" y2="381.50" stroke="#3a3a3a" stroke-width="0.7" />
<line x1="372.10" y1="380.00" x2="372.10" y2="381.50" stroke="#3a3a3a" stroke-width="0.7" />
<line x1="375.30" y1="380.00" x2="375.30" y2="381.50" stroke="#3a3a3a" stroke-width="0.7" />
<line x1="378.50" y1="380.00" x2="378.50" y2="381.50" stroke="#3a3a3a" stroke-width="0.7" />
<line x1="381.70" y1="380.00" x2="381.70" y2="381.50" stroke="#3a3a3a" stroke-width="0.7" />
<line x1="384.90" y1="380.00" x2="384.90" y2="381.50" stroke="#3a3a3a" stroke-width="0.7" />
<line x1="388.10" y1="380.00" x2="388.10" y2="381.50" stroke="#3a3a3a" stroke-width="0.7" />
<line x1="391.30" y1="380.00" x2="391.30" y2="381.50" stroke="#3a3a3a" stroke-width="0.7" />
<line x1="394.50" y1="380.00" x2="394.50" y2="381.50" stroke="#3a3a3a" stroke-width="0.7" />
<line x1="343.10" y1="380.00" x2="343.10" y2="383.00" stroke="#3a3a3a" stroke-width="0.8" />
<line x1="363.80" y1="380.00" x2="363.80" y2="383.00" stroke="#3a3a3a" stroke-width="0.8" />
<line x1="384.90" y1="380.00" x2="384.90" y2="383.00" stroke="#3a3a3a" stroke-width="0.8" />
<text transform="translate(309.0,334.4) rotate(-90)" x="0" y="0" stroke="#2b2b2b" stroke-width="0.1" font-size="8" text-anchor="middle" fill="#262626" textLength="88.5" lengthAdjust="spacingAndGlyphs">% of GR1+ CD117+ cells in PB</text>
<text x="339.00" y="391.30" font-size="8.1" text-anchor="middle" fill="#262626" stroke="#262626" stroke-width="0.12" textLength="26.5" lengthAdjust="spacingAndGlyphs" >Placebo</text>
<text x="363.50" y="391.30" font-size="8.1" text-anchor="middle" fill="#262626" stroke="#262626" stroke-width="0.12" textLength="14.5" lengthAdjust="spacingAndGlyphs" >ATO</text>
<text x="384.70" y="391.30" font-size="8.1" text-anchor="middle" fill="#262626" stroke="#262626" stroke-width="0.12" textLength="18.1" lengthAdjust="spacingAndGlyphs" >2-DG</text>
<line x1="336.20" y1="357.40" x2="349.50" y2="357.40" stroke="#5a2a82" stroke-width="1" />
<circle cx="343.1" cy="350.30" r="1.6" fill="#5a2a82"/>
<circle cx="343.1" cy="359.30" r="1.6" fill="#5a2a82"/>
<circle cx="343.1" cy="363.35" r="1.6" fill="#5a2a82"/>
<line x1="356.90" y1="357.40" x2="370.50" y2="357.40" stroke="#f7941d" stroke-width="1" />
<rect x="362.30" y="313.25" width="3.00" height="3.00" fill="#f7941d"/>
<rect x="362.30" y="351.95" width="3.00" height="3.00" fill="#f7941d"/>
<rect x="362.30" y="370.85" width="3.00" height="3.00" fill="#f7941d"/>
<rect x="362.30" y="373.10" width="3.00" height="3.00" fill="#f7941d"/>
<line x1="378.20" y1="368.00" x2="391.50" y2="368.00" stroke="#17725a" stroke-width="1" />
<polygon points="382.80,359.00 387.00,359.00 384.90,355.30" fill="#17725a"/>
<polygon points="382.80,368.45 387.00,368.45 384.90,364.75" fill="#17725a"/>
<polygon points="382.80,371.15 387.00,371.15 384.90,367.45" fill="#17725a"/>
<polygon points="382.80,374.75 387.00,374.75 384.90,371.05" fill="#17725a"/>
<polyline points="341.50,324.30 341.50,307.90 377.50,307.90 377.50,310.10" fill="none" stroke="#444" stroke-width="1.1"/>
<text x="366.90" y="305.60" font-size="7" text-anchor="middle" fill="#262626" stroke="#262626" stroke-width="0.12" >ns</text>
<line x1="432.50" y1="288.90" x2="432.50" y2="381.50" stroke="#333" stroke-width="1.3" />
<line x1="429.00" y1="381.00" x2="496.10" y2="381.00" stroke="#444" stroke-width="1.6" />
<line x1="429.20" y1="380.15" x2="432.00" y2="380.15" stroke="#3a3a3a" stroke-width="1" />
<text x="425.50" y="382.75" font-size="7.4" text-anchor="end" fill="#262626" stroke="#262626" stroke-width="0.12" >0.001</text>
<line x1="430.60" y1="374.66" x2="432.00" y2="374.66" stroke="#3a3a3a" stroke-width="0.6" />
<line x1="430.60" y1="371.44" x2="432.00" y2="371.44" stroke="#3a3a3a" stroke-width="0.6" />
<line x1="430.60" y1="369.16" x2="432.00" y2="369.16" stroke="#3a3a3a" stroke-width="0.6" />
<line x1="430.60" y1="367.39" x2="432.00" y2="367.39" stroke="#3a3a3a" stroke-width="0.6" />
<line x1="430.60" y1="365.95" x2="432.00" y2="365.95" stroke="#3a3a3a" stroke-width="0.6" />
<line x1="430.60" y1="364.73" x2="432.00" y2="364.73" stroke="#3a3a3a" stroke-width="0.6" />
<line x1="430.60" y1="363.67" x2="432.00" y2="363.67" stroke="#3a3a3a" stroke-width="0.6" />
<line x1="430.60" y1="362.74" x2="432.00" y2="362.74" stroke="#3a3a3a" stroke-width="0.6" />
<line x1="429.20" y1="361.90" x2="432.00" y2="361.90" stroke="#3a3a3a" stroke-width="1" />
<text x="425.50" y="364.50" font-size="7.4" text-anchor="end" fill="#262626" stroke="#262626" stroke-width="0.12" >0.01</text>
<line x1="430.60" y1="356.41" x2="432.00" y2="356.41" stroke="#3a3a3a" stroke-width="0.6" />
<line x1="430.60" y1="353.19" x2="432.00" y2="353.19" stroke="#3a3a3a" stroke-width="0.6" />
<line x1="430.60" y1="350.91" x2="432.00" y2="350.91" stroke="#3a3a3a" stroke-width="0.6" />
<line x1="430.60" y1="349.14" x2="432.00" y2="349.14" stroke="#3a3a3a" stroke-width="0.6" />
<line x1="430.60" y1="347.70" x2="432.00" y2="347.70" stroke="#3a3a3a" stroke-width="0.6" />
<line x1="430.60" y1="346.48" x2="432.00" y2="346.48" stroke="#3a3a3a" stroke-width="0.6" />
<line x1="430.60" y1="345.42" x2="432.00" y2="345.42" stroke="#3a3a3a" stroke-width="0.6" />
<line x1="430.60" y1="344.49" x2="432.00" y2="344.49" stroke="#3a3a3a" stroke-width="0.6" />
<line x1="429.20" y1="343.65" x2="432.00" y2="343.65" stroke="#3a3a3a" stroke-width="1" />
<text x="425.50" y="346.25" font-size="7.4" text-anchor="end" fill="#262626" stroke="#262626" stroke-width="0.12" >0.1</text>
<line x1="430.60" y1="338.16" x2="432.00" y2="338.16" stroke="#3a3a3a" stroke-width="0.6" />
<line x1="430.60" y1="334.94" x2="432.00" y2="334.94" stroke="#3a3a3a" stroke-width="0.6" />
<line x1="430.60" y1="332.66" x2="432.00" y2="332.66" stroke="#3a3a3a" stroke-width="0.6" />
<line x1="430.60" y1="330.89" x2="432.00" y2="330.89" stroke="#3a3a3a" stroke-width="0.6" />
<line x1="430.60" y1="329.45" x2="432.00" y2="329.45" stroke="#3a3a3a" stroke-width="0.6" />
<line x1="430.60" y1="328.23" x2="432.00" y2="328.23" stroke="#3a3a3a" stroke-width="0.6" />
<line x1="430.60" y1="327.17" x2="432.00" y2="327.17" stroke="#3a3a3a" stroke-width="0.6" />
<line x1="430.60" y1="326.24" x2="432.00" y2="326.24" stroke="#3a3a3a" stroke-width="0.6" />
<line x1="429.20" y1="325.40" x2="432.00" y2="325.40" stroke="#3a3a3a" stroke-width="1" />
<text x="425.50" y="328.00" font-size="7.4" text-anchor="end" fill="#262626" stroke="#262626" stroke-width="0.12" >1</text>
<line x1="430.60" y1="319.91" x2="432.00" y2="319.91" stroke="#3a3a3a" stroke-width="0.6" />
<line x1="430.60" y1="316.69" x2="432.00" y2="316.69" stroke="#3a3a3a" stroke-width="0.6" />
<line x1="430.60" y1="314.41" x2="432.00" y2="314.41" stroke="#3a3a3a" stroke-width="0.6" />
<line x1="430.60" y1="312.64" x2="432.00" y2="312.64" stroke="#3a3a3a" stroke-width="0.6" />
<line x1="430.60" y1="311.20" x2="432.00" y2="311.20" stroke="#3a3a3a" stroke-width="0.6" />
<line x1="430.60" y1="309.98" x2="432.00" y2="309.98" stroke="#3a3a3a" stroke-width="0.6" />
<line x1="430.60" y1="308.92" x2="432.00" y2="308.92" stroke="#3a3a3a" stroke-width="0.6" />
<line x1="430.60" y1="307.99" x2="432.00" y2="307.99" stroke="#3a3a3a" stroke-width="0.6" />
<line x1="429.20" y1="307.15" x2="432.00" y2="307.15" stroke="#3a3a3a" stroke-width="1" />
<text x="425.50" y="309.75" font-size="7.4" text-anchor="end" fill="#262626" stroke="#262626" stroke-width="0.12" >10</text>
<line x1="430.60" y1="301.66" x2="432.00" y2="301.66" stroke="#3a3a3a" stroke-width="0.6" />
<line x1="430.60" y1="298.44" x2="432.00" y2="298.44" stroke="#3a3a3a" stroke-width="0.6" />
<line x1="430.60" y1="296.16" x2="432.00" y2="296.16" stroke="#3a3a3a" stroke-width="0.6" />
<line x1="430.60" y1="294.39" x2="432.00" y2="294.39" stroke="#3a3a3a" stroke-width="0.6" />
<line x1="430.60" y1="292.95" x2="432.00" y2="292.95" stroke="#3a3a3a" stroke-width="0.6" />
<line x1="430.60" y1="291.73" x2="432.00" y2="291.73" stroke="#3a3a3a" stroke-width="0.6" />
<line x1="430.60" y1="290.67" x2="432.00" y2="290.67" stroke="#3a3a3a" stroke-width="0.6" />
<line x1="430.60" y1="289.74" x2="432.00" y2="289.74" stroke="#3a3a3a" stroke-width="0.6" />
<line x1="429.20" y1="288.90" x2="432.00" y2="288.90" stroke="#3a3a3a" stroke-width="1" />
<text x="425.50" y="291.50" font-size="7.4" text-anchor="end" fill="#262626" stroke="#262626" stroke-width="0.12" >100</text>
<text transform="translate(401.3,335.6) rotate(-90)" x="0" y="0" stroke="#2b2b2b" stroke-width="0.1" font-size="8" text-anchor="middle" fill="#262626" textLength="48.6" lengthAdjust="spacingAndGlyphs">PML-RARA (NCN)</text>
<line x1="445.00" y1="380.40" x2="445.00" y2="383.00" stroke="#3a3a3a" stroke-width="0.8" />
<line x1="464.20" y1="380.40" x2="464.20" y2="383.00" stroke="#3a3a3a" stroke-width="0.8" />
<line x1="482.90" y1="380.40" x2="482.90" y2="383.00" stroke="#3a3a3a" stroke-width="0.8" />
<text x="439.80" y="391.90" font-size="8.1" text-anchor="middle" fill="#262626" stroke="#262626" stroke-width="0.12" textLength="26.8" lengthAdjust="spacingAndGlyphs" >Placebo</text>
<text x="463.80" y="391.90" font-size="8.1" text-anchor="middle" fill="#262626" stroke="#262626" stroke-width="0.12" textLength="14.2" lengthAdjust="spacingAndGlyphs" >ATO</text>
<text x="482.70" y="391.90" font-size="8.1" text-anchor="middle" fill="#262626" stroke="#262626" stroke-width="0.12" textLength="17.7" lengthAdjust="spacingAndGlyphs" >2-DG</text>
<line x1="438.90" y1="320.00" x2="451.30" y2="320.00" stroke="#444" stroke-width="1.2" />
<line x1="445.30" y1="313.20" x2="445.30" y2="324.30" stroke="#444" stroke-width="0.9" />
<polygon points="443.4,325.6 447.2,325.6 445.3,322.6" fill="#444"/>
<circle cx="441.8" cy="316.5" r="1.5" fill="#5a2a82"/>
<circle cx="448.6" cy="317.9" r="1.5" fill="#5a2a82"/>
<circle cx="445.1" cy="337.4" r="1.5" fill="#5a2a82"/>
<line x1="464.30" y1="314.20" x2="464.30" y2="339.50" stroke="#333" stroke-width="1.1" />
<rect x="462.70" y="337.70" width="3.00" height="3.00" fill="#f7941d"/>
<rect x="462.70" y="368.80" width="3.00" height="3.00" fill="#f7941d"/>
<rect x="462.70" y="374.10" width="3.00" height="3.00" fill="#f7941d"/>
<polygon points="462.10,358.70 466.30,358.70 464.20,355.00" fill="#c07818"/>
<rect x="462.70" y="348.10" width="3.00" height="3.00" fill="#d08a20"/>
<line x1="458.20" y1="349.60" x2="470.60" y2="349.60" stroke="#3a3a3a" stroke-width="1" />
<line x1="464.20" y1="345.50" x2="464.20" y2="357.20" stroke="#3a3a3a" stroke-width="0.8" />
<line x1="462.20" y1="345.50" x2="466.20" y2="345.50" stroke="#3a3a3a" stroke-width="0.8" />
<polygon points="480.80,353.30 485.00,353.30 482.90,349.60" fill="#17725a"/>
<polygon points="477.50,356.30 481.70,356.30 479.60,352.60" fill="#17725a"/>
<polygon points="484.20,360.20 488.40,360.20 486.30,356.50" fill="#17725a"/>
<polygon points="480.80,368.80 485.00,368.80 482.90,365.10" fill="#17725a"/>
<polygon points="482.9,378 485,380.4 482.9,382.6 480.8,380.4" fill="#17725a"/>
<line x1="483.00" y1="310.90" x2="483.00" y2="354.20" stroke="#333" stroke-width="1.1" />
<line x1="477.30" y1="357.80" x2="489.80" y2="357.80" stroke="#3a3a3a" stroke-width="1" />
<line x1="482.90" y1="355.30" x2="482.90" y2="361.30" stroke="#3a3a3a" stroke-width="0.8" />
<line x1="481.00" y1="361.30" x2="484.80" y2="361.30" stroke="#3a3a3a" stroke-width="0.8" />
<polyline points="445.30,316.00 445.30,310.90 483.00,310.90" fill="none" stroke="#333" stroke-width="1.1"/>
<polyline points="445.30,314.20 464.30,314.20" fill="none" stroke="#333" stroke-width="1.1"/>
<line x1="464.30" y1="330.40" x2="483.00" y2="330.40" stroke="#333" stroke-width="1.1" />
<circle cx="470.22" cy="308.00" r="0.95" fill="#222"/>
<circle cx="473.17" cy="308.00" r="0.95" fill="#222"/>
<circle cx="453.12" cy="316.50" r="0.95" fill="#222"/>
<circle cx="456.07" cy="316.50" r="0.95" fill="#222"/>
<text x="473.30" y="328.20" font-size="6.8" text-anchor="middle" fill="#262626" stroke="#262626" stroke-width="0.12" >ns</text>
</svg>
<div class="frame"></div>
</body></html>
